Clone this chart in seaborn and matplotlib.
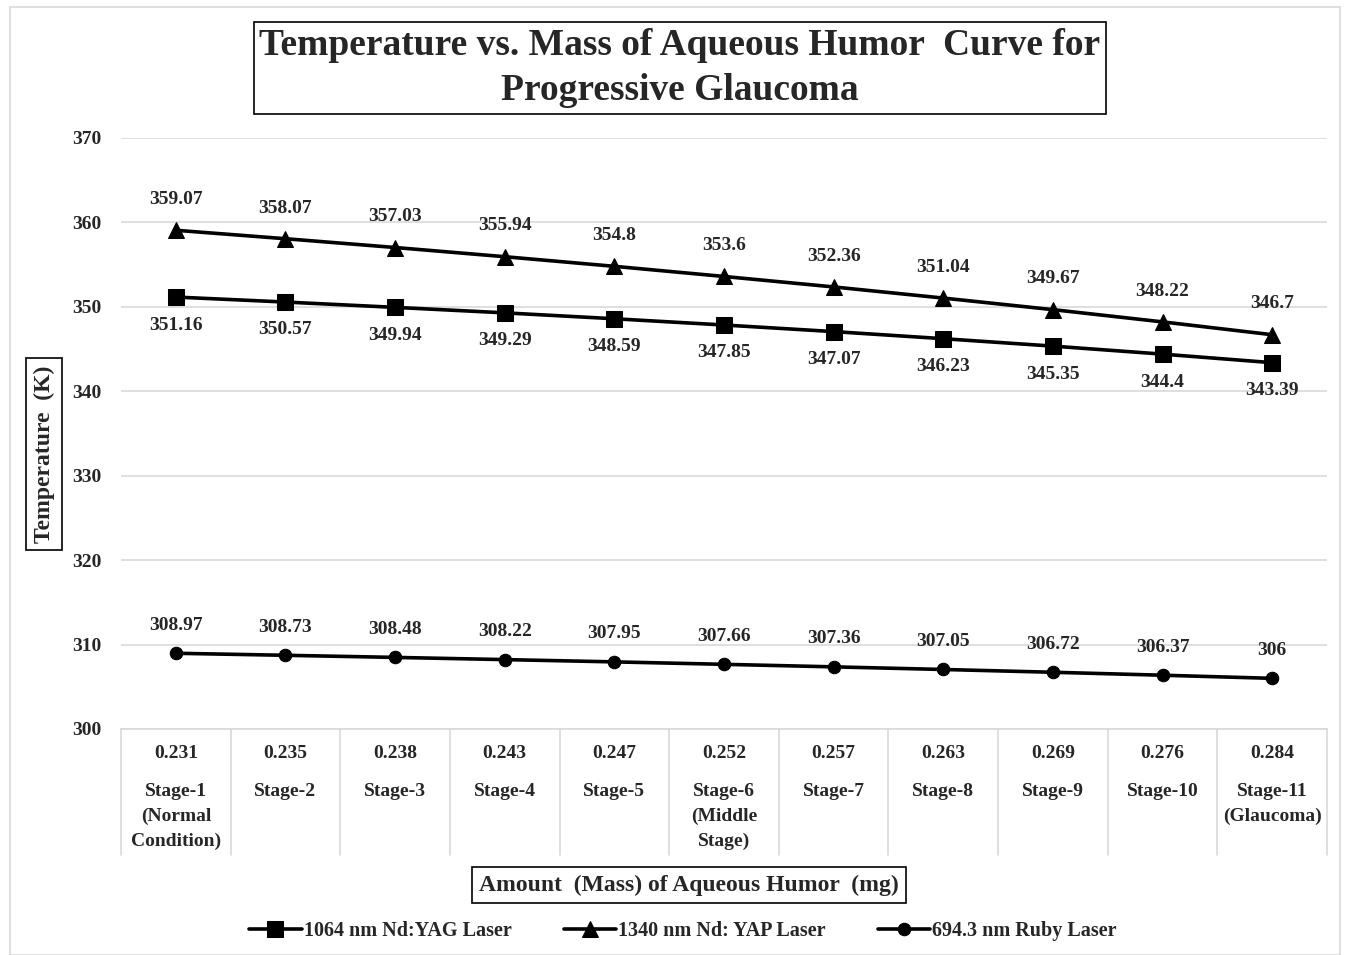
import matplotlib
matplotlib.use("Agg")
import matplotlib.pyplot as plt
import seaborn as sns
import pandas as pd
import numpy as np
from matplotlib.patches import Rectangle

# ---- data ----
mass = ["0.231", "0.235", "0.238", "0.243", "0.247", "0.252", "0.257", "0.263", "0.269", "0.276", "0.284"]
stages = ["Stage-1\n(Normal\nCondition)", "Stage-2", "Stage-3", "Stage-4", "Stage-5",
          "Stage-6\n(Middle\nStage)", "Stage-7", "Stage-8", "Stage-9", "Stage-10",
          "Stage-11\n(Glaucoma)"]
yag = [351.16, 350.57, 349.94, 349.29, 348.59, 347.85, 347.07, 346.23, 345.35, 344.4, 343.39]
yap = [359.07, 358.07, 357.03, 355.94, 354.8, 353.6, 352.36, 351.04, 349.67, 348.22, 346.7]
ruby = [308.97, 308.73, 308.48, 308.22, 307.95, 307.66, 307.36, 307.05, 306.72, 306.37, 306]
series_names = ["1064 nm Nd:YAG Laser", "1340 nm Nd: YAP Laser", "694.3 nm Ruby Laser"]
yticks = [300, 310, 320, 330, 340, 350, 360, 370]

rows = []
for name, vals in zip(series_names, [yag, yap, ruby]):
    for i, v in enumerate(vals):
        rows.append({"idx": i, "Temperature": v, "series": name})
df = pd.DataFrame(rows)

sns.set_theme(style="white")
plt.rcParams["font.family"] = ["Liberation Serif", "DejaVu Serif"]
plt.rcParams["font.weight"] = "bold"

fig = plt.figure(figsize=(13.51, 9.55), dpi=100)
ax = fig.add_axes([121/1351, 1-729/955, (1327-121)/1351, (729-138)/955])

markers = {series_names[0]: "s", series_names[1]: "^", series_names[2]: "o"}
sizes = {series_names[0]: 11, series_names[1]: 11, series_names[2]: 9}
for name in series_names:
    sub = df[df.series == name]
    sns.lineplot(data=sub, x="idx", y="Temperature", ax=ax, color="black",
                 marker=markers[name], markersize=sizes[name], linewidth=2.6,
                 markeredgecolor="black", label=name, legend=False)

# data labels
offsets = {series_names[0]: (-14, "top"), series_names[1]: (16, "bottom"), series_names[2]: (14, "bottom")}
for name, vals in zip(series_names, [yag, yap, ruby]):
    dy, va = offsets[name]
    for i, v in enumerate(vals):
        ax.annotate(f"{v:g}", (i, v), xytext=(0, dy), textcoords="offset points",
                    ha="center", va=va, fontsize=14, fontweight="bold")

ax.set_xlim(-0.5, len(mass) - 0.5)
ax.set_ylim(300, 370)
ax.set_yticks(yticks)
ax.set_yticklabels([str(t) for t in yticks], fontsize=14, fontweight="bold")
ax.tick_params(axis="y", length=0, pad=14)
ax.set_xticks([])
ax.set_xlabel("")
ax.set_ylabel("")
ax.grid(axis="y", color="#d9d9d9", linewidth=1.2)
ax.grid(axis="x", visible=False)
for s in ["left", "right", "top"]:
    ax.spines[s].set_visible(False)
ax.spines["bottom"].set_color("#d9d9d9")
ax.spines["bottom"].set_linewidth(1.2)

# category table under axis
xt = ax.get_xaxis_transform()
for b in np.arange(-0.5, len(mass), 1.0):
    ax.plot([b, b], [0, -0.213], transform=xt, color="#d9d9d9", linewidth=1.2, clip_on=False)
for i, (m, s) in enumerate(zip(mass, stages)):
    ax.text(i, -0.042, m, transform=xt, ha="center", va="center", fontsize=14, fontweight="bold")
    ax.text(i, -0.092, s, transform=xt, ha="center", va="top", fontsize=14, fontweight="bold",
            linespacing=1.55)

# title, axis labels (boxed)
box = dict(boxstyle="square,pad=0.3", facecolor="white", edgecolor="black", linewidth=1.2)
fig.text(680/1351, 1-68/955, "Temperature vs. Mass of Aqueous Humor  Curve for\nProgressive Glaucoma",
         ha="center", va="center", fontsize=27, fontweight="bold", linespacing=1.4,
         bbox=dict(boxstyle="square,pad=0.15", facecolor="white", edgecolor="black", linewidth=1.2))
fig.text(44/1351, 1-454/955, "Temperature  (K)", rotation=90, ha="center", va="center",
         fontsize=17, fontweight="bold", bbox=box)
fig.text(689/1351, 1-885/955, "Amount  (Mass) of Aqueous Humor  (mg)", ha="center", va="center",
         fontsize=17, fontweight="bold", bbox=box)

# legend
handles, labels = ax.get_legend_handles_labels()
fig.legend(handles, labels, loc="center", bbox_to_anchor=(683/1351, 1-931/955), ncol=3,
           frameon=False, handlelength=2.6, columnspacing=2.6, handletextpad=0.1,
           prop={"weight": "bold", "size": 14.5})

# outer border
fig.patches.append(Rectangle((10/1351, 0.0), 1330/1351, 1-7/955, transform=fig.transFigure,
                             fill=False, edgecolor="#d9d9d9", linewidth=1.2))

fig.savefig("out.png", dpi=100)
